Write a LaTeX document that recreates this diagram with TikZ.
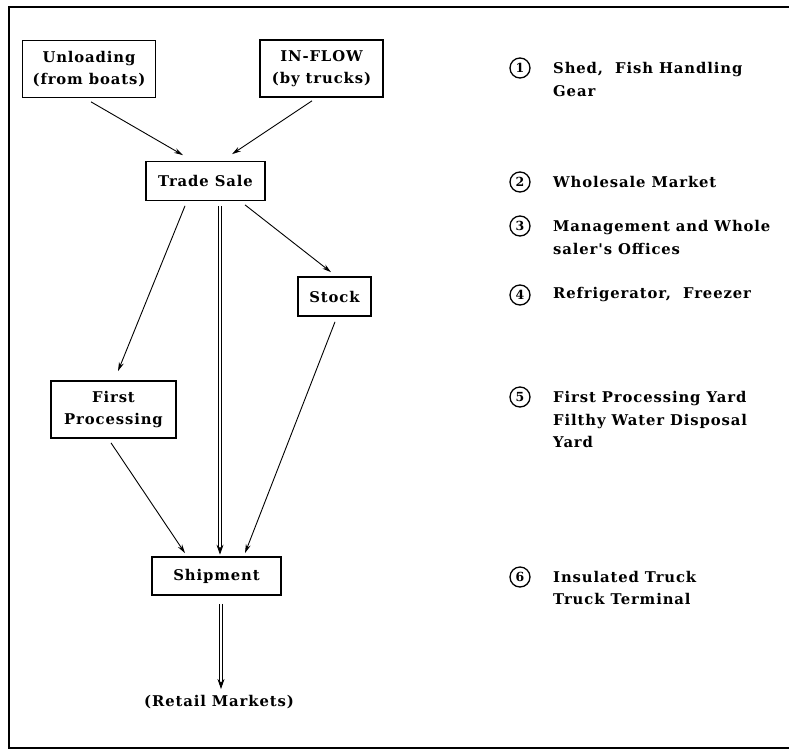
\documentclass[tikz,border=0pt]{standalone}
\usepackage{fontspec}
\setmainfont{DejaVu Serif}[BoldFont={DejaVu Serif Bold}]
\newfontfamily\diafont{DejaVu Serif Bold}[LetterSpace=6]
\usetikzlibrary{arrows.meta,calc}
\begin{document}
\begin{tikzpicture}[x=1pt,y=-1pt,
  every node/.style={font=\diafont\fontsize{14.8}{22.5}\selectfont},
  box/.style={draw,line width=1.7pt,align=center,inner sep=0pt},
  arr/.style={line width=0.9pt,-{Stealth[length=9pt,width=5pt]}},
  dbl/.style={double,double distance=2pt,line width=0.8pt,-{Stealth[length=10pt,width=7pt]}},
  num/.style={draw,circle,line width=1.3pt,minimum size=20pt,inner sep=0pt,font=\diafont\fontsize{12.5}{13}\selectfont},
  legend/.style={anchor=west,align=left,inner sep=0pt}]
\useasboundingbox (0,0) rectangle (789,750);
% frame
\draw[line width=1.8pt] (830,7) -- (9,7) -- (9,748) -- (830,748);
% flow nodes
\node[box,minimum width=133pt,minimum height=57pt] (unload) at (89,69) {Unloading\\(from boats)};
\node[box,minimum width=123pt,minimum height=57pt] (inflow) at (321.5,68.5) {IN-FLOW\\(by trucks)};
\node[box,minimum width=119pt,minimum height=39pt] (trade) at (205.5,181) {Trade Sale};
\node[box,minimum width=73pt,minimum height=39pt] (stock) at (334.5,296.5) {Stock};
\node[box,minimum width=125pt,minimum height=57pt] (first) at (113.5,409.5) {First\\Processing};
\node[box,minimum width=129pt,minimum height=38pt] (ship) at (216.5,576) {Shipment};
\node[inner sep=0pt] (retail) at (219,702) {(Retail Markets)};
% connectors
\draw[arr] ($(unload.south)+(2,3.5)$) -- ($(trade.north)+(-22.5,-5.5)$);
\draw[arr] ($(inflow.south)+(-9.5,3)$) -- ($(trade.north)+(26.5,-6.5)$);
\draw[arr] ($(trade.south)+(-20.5,4.5)$) -- ($(first.north)+(4.5,-9)$);
\draw[arr] ($(trade.south)+(39.5,3.5)$) -- ($(stock.north)+(-3.5,-4)$);
\draw[dbl] ($(trade.south)+(14.5,5)$) -- ($(ship.north)+(3.5,-1.5)$);
\draw[arr] ($(stock.south)+(0.5,5)$) -- ($(ship.north)+(28.5,-3)$);
\draw[arr] ($(first.south)+(-2.5,4)$) -- ($(ship.north)+(-31.5,-3)$);
\draw[dbl] ($(ship.south)+(4.5,8)$) -- ($(retail.north)+(2,-6)$);
% legend
\node[num] (n1) at (520,68) {1};
\node[legend] (t1) at (553,79.5) {Shed,\ \ Fish Handling\\Gear};
\node[num] (n2) at (520,182) {2};
\node[legend] (t2) at (553,182) {Wholesale Market};
\node[num] (n3) at (520,226) {3};
\node[legend] (t3) at (553,237.5) {Management and Whole\\saler's Offices};
\node[num] (n4) at (520,295) {4};
\node[legend] (t4) at (553,295) {Refrigerator,\ \ Freezer};
\node[num] (n5) at (520,397) {5};
\node[legend] (t5) at (553,419.5) {First Processing Yard\\Filthy Water Disposal\\Yard};
\node[num] (n6) at (520,577) {6};
\node[legend] (t6) at (553,588) {Insulated Truck\\Truck Terminal};
\end{tikzpicture}
\end{document}
